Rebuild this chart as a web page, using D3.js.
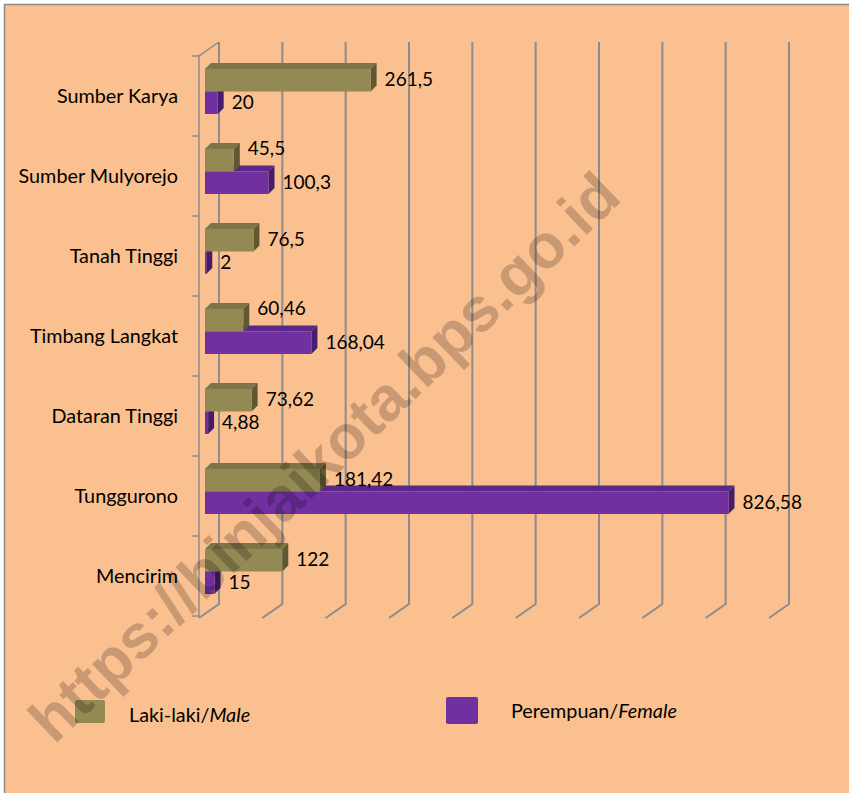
<!DOCTYPE html>
<html lang="id">
<head>
<meta charset="UTF-8">
<script src="https://d3js.org/d3.v7.min.js"></script>
<style>
  html, body { margin: 0; padding: 0; background: #fff; }
  svg text { font-family: Lato, "Open Sans", sans-serif; fill: #000; }
</style>
</head>
<body>
<div id="chart"></div>
<script>
// data
const categories = ["Sumber Karya", "Sumber Mulyorejo", "Tanah Tinggi", "Timbang Langkat",
                    "Dataran Tinggi", "Tunggurono", "Mencirim"];
const male   = [261.5, 45.5, 76.5, 60.46, 73.62, 181.42, 122];
const female = [20, 100.3, 2, 168.04, 4.88, 826.58, 15];
const gridTicks = [0, 100, 200, 300, 400, 500, 600, 700, 800, 900];
const seriesNames = ["Laki-laki/", "Perempuan/"];
const seriesItalic = ["Male", "Female"];

const w = 849, h = 793;
const bg = "#FAC090";
const gridCol = "#8c8c8c";
const colors = {
  male:   { front: "#938953", top: "#7d7547", side: "#5f5933" },
  female: { front: "#7030A0", top: "#5b2788", side: "#461c6c" }
};
const dx = 6, dy = -6;          // bar depth
const wallDx = 14, floorDx = -6; // back wall / floor offsets from bar face
const wallTop = 42, wallBottom = 604, floorY = 618;

const svg = d3.select("#chart").append("svg")
  .attr("width", w).attr("height", h);

svg.append("rect")
  .attr("x", 4.5).attr("y", 4.5)
  .attr("width", w + 20).attr("height", h + 20)
  .attr("fill", bg).attr("stroke", gridCol).attr("stroke-width", 1.5);

// scales
const x = d3.scaleLinear().domain([0, 900]).range([205, 775]);
const y = d3.scaleBand().domain(categories).range([56, 616]).padding(0);
const inner = d3.scaleBand().domain(["male", "female"]).range([13, 58]);

// back wall gridlines + floor
const grid = svg.append("g").attr("stroke", gridCol).attr("stroke-width", 2).attr("fill", "none");
grid.selectAll("path.g")
  .data(gridTicks)
  .join("path")
  .attr("class", "g")
  .attr("d", d => {
    const bx = x(d) + wallDx;
    return `M${bx},${wallTop}V${wallBottom}L${x(d) + floorDx},${floorY}`;
  });

// left wall / category axis
const axisX = x(0) + floorDx;
grid.append("path")
  .attr("d", `M${x(0) + wallDx},${wallTop}L${axisX},${y.range()[0]}V${floorY}`)
  .attr("stroke-width", 1.5);
grid.selectAll("line.tick")
  .data(d3.range(categories.length + 1))
  .join("line")
  .attr("class", "tick")
  .attr("x1", axisX - 7).attr("x2", axisX)
  .attr("y1", i => y.range()[0] + i * y.step())
  .attr("y2", i => y.range()[0] + i * y.step())
  .attr("stroke-width", 1.5);

// category labels
svg.append("g").selectAll("text")
  .data(categories)
  .join("text")
  .attr("x", 178)
  .attr("y", d => y(d) + 42)
  .attr("text-anchor", "end")
  .attr("dominant-baseline", "middle")
  .attr("font-size", 19.8)
  .text(d => d);

// 3D bars
function bar3d(g, v, y0, bh, c) {
  const x0 = x(0), x1 = x(v), y1 = y0 + bh;
  g.append("path")
    .attr("d", `M${x0},${y0}L${x0 + dx},${y0 + dy}L${x1 + dx},${y0 + dy}L${x1},${y0}Z`)
    .attr("fill", c.top);
  g.append("path")
    .attr("d", `M${x1},${y0}L${x1 + dx},${y0 + dy}L${x1 + dx},${y1 + dy}L${x1},${y1}Z`)
    .attr("fill", c.side);
  g.append("rect")
    .attr("x", x0).attr("y", y0)
    .attr("width", x1 - x0).attr("height", bh)
    .attr("fill", c.front);
}

const fmt = v => String(v).replace(".", ",");
const bars = svg.append("g");
const labels = svg.append("g");
categories.forEach((cat, i) => {
  const g = bars.append("g");
  const yf = y(cat) + inner("female");
  const ym = y(cat) + inner("male");
  const bh = inner.bandwidth();
  bar3d(g, female[i], yf, bh, colors.female);
  bar3d(g, male[i], ym, bh, colors.male);
  // male label gets nudged up when the female bar ends just under it
  const lx = x(male[i]) + 14;
  const fEnd = x(female[i]) + dx;
  const nudge = (fEnd > lx - 10 && fEnd < lx + 80) ? -11 : 0;
  labels.append("text")
    .attr("x", lx).attr("y", ym + bh / 2 + 1 + nudge)
    .attr("dominant-baseline", "middle").attr("font-size", 19)
    .text(fmt(male[i]));
  labels.append("text")
    .attr("x", x(female[i]) + 14).attr("y", yf + bh / 2 + 1)
    .attr("dominant-baseline", "middle").attr("font-size", 19)
    .text(fmt(female[i]));
});

// legend
const legendPos = [{ sx: 75, sy: 700, sw: 30, sh: 23, tx: 129, ty: 717 },
                   { sx: 446, sy: 697, sw: 32, sh: 27, tx: 511, ty: 713 }];
const legendCols = [colors.male.front, colors.female.front];
const lg = svg.append("g");
seriesNames.forEach((name, i) => {
  const p = legendPos[i];
  lg.append("rect")
    .attr("x", p.sx).attr("y", p.sy).attr("width", p.sw).attr("height", p.sh)
    .attr("rx", 2).attr("fill", legendCols[i]);
  const t = lg.append("text")
    .attr("x", p.tx).attr("y", p.ty)
    .attr("dominant-baseline", "middle").attr("font-size", 19.8);
  t.append("tspan").text(name);
  t.append("tspan").attr("font-style", "italic").text(seriesItalic[i]);
});

// watermark
svg.append("text")
  .attr("transform", "translate(324,457) rotate(-43.8)")
  .attr("text-anchor", "middle")
  .attr("dominant-baseline", "central")
  .style("font-family", "'Liberation Sans', Arial, sans-serif")
  .attr("font-weight", "bold")
  .attr("font-size", 62)
  .attr("fill", "#8a4a20")
  .attr("fill-opacity", 0.2)
  .text("https://binjaikota.bps.go.id");
</script>
</body>
</html>
